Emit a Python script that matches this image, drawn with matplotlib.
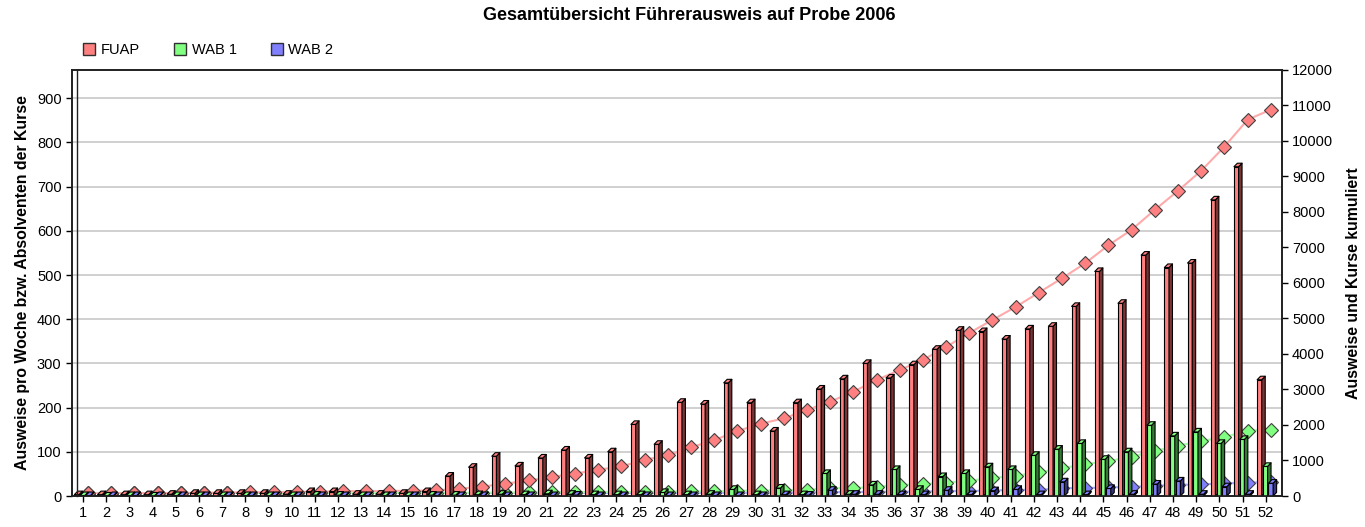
import matplotlib
matplotlib.use("Agg")
import matplotlib.pyplot as plt
import numpy as np
from matplotlib.collections import PolyCollection
from matplotlib.lines import Line2D
from matplotlib.patches import Rectangle
from matplotlib import transforms

plt.rcParams["font.family"] = ["Liberation Sans", "DejaVu Sans"]

weeks = list(range(1, 53))

# weekly counts (left axis)
fuap = [3, 3, 3, 3, 4, 6, 6, 6, 6, 4, 10, 10, 4, 4, 6, 10,
        45, 65, 90, 68, 86, 104, 86, 100, 162, 117,
        212, 208, 256, 211, 147, 211, 242, 265, 300, 267,
        297, 332, 375, 372, 355, 378, 384, 429, 508, 436,
        545, 517, 527, 670, 745, 263]
wab1 = [1, 0, 1, 0, 1, 1, 1, 1, 1, 1, 2, 2, 1, 1, 1, 2,
        2, 3, 4, 3, 5, 4, 3, 3, 3, 8, 3, 4,
        15, 3, 18, 3, 51, 4, 25, 60, 15, 44,
        51, 66, 60, 92, 106, 119, 83, 100,
        160, 136, 145, 119, 128, 67]
wab2 = [1, 1, 1, 1, 1, 1, 1, 1, 1, 1, 1, 1, 1, 1, 1, 1,
        1, 1, 1, 1, 1, 2, 1, 1, 1, 1, 1, 1, 1, 1,
        3, 2, 13, 4, 4, 3, 3, 13, 3, 12, 15, 3, 32, 3, 17, 4,
        27, 34, 4, 21, 4, 29]

# cumulative values (right axis)
fuap_cum = [3, 6, 9, 12, 16, 22, 28, 34, 40, 44, 54, 64, 68, 72, 78, 88,
            133, 195, 275, 366, 465, 560, 670, 760, 950, 1070, 1300, 1500, 1757,
            1963, 2113, 2349, 2583, 2865, 3194, 3476, 3758, 4124, 4518, 4884, 5250, 5654,
            6057, 6479, 6986, 7420, 7983, 8518, 9082, 9758, 10518, 10800]
wab1_cum = [1, 1, 2, 2, 3, 4, 5, 6, 7, 8, 10, 12, 13, 14, 15, 17,
            19, 22, 26, 29, 34, 38, 41, 44, 47, 55, 58, 62,
            77, 80, 98, 101, 152, 156, 183, 243, 262, 306,
            360, 438, 500, 595, 712, 827, 912, 1035,
            1200, 1345, 1476, 1589, 1765, 1800]
wab2_cum = [0, 0, 1, 1, 1, 2, 2, 3, 3, 3, 4, 4, 5, 5, 5, 6,
            7, 8, 9, 10, 11, 12, 13, 14, 15, 16, 17, 18, 19, 20,
            23, 25, 38, 42, 46, 49, 52, 65, 70, 84, 100, 104, 150, 154, 172, 185,
            215, 245, 254, 285, 300, 330]

series_names = ["FUAP", "WAB 1", "WAB 2"]
front_colors = ["#ff8080", "#80ff80", "#8080ff"]
side_colors = ["#7a3434", "#347a34", "#34347a"]
line_colors = ["#ffaaaa", "#aaffaa", "#aaaaff"]


def bars3d(ax, x, h, off, w, dx, dy, fc, sc, z):
    x = np.asarray(x, float) + off
    h = np.asarray(h, float)
    ax.bar(x, h, width=w, align="edge", color=fc, edgecolor="black",
           linewidth=0.8, zorder=z)
    sides = [[(xi + w, 0), (xi + w + dx, dy), (xi + w + dx, hi + dy), (xi + w, hi)]
             for xi, hi in zip(x, h)]
    tops = [[(xi, hi), (xi + dx, hi + dy), (xi + w + dx, hi + dy), (xi + w, hi)]
            for xi, hi in zip(x, h)]
    ax.add_collection(PolyCollection(sides, facecolors=sc, edgecolors="black",
                                     linewidths=0.8, zorder=z))
    ax.add_collection(PolyCollection(tops, facecolors=fc, edgecolors="black",
                                     linewidths=0.8, zorder=z))


fig = plt.figure(figsize=(13.65, 5.27), dpi=100)
ax = fig.add_axes([72 / 1365, 31 / 527, 1209.7 / 1365, 426.5 / 527])
ax2 = ax.twinx()

ax.set_xlim(0.53, 52.69)
ax.set_ylim(0, 965)
ax2.set_ylim(0, 12000)

# cumulative lines behind the bars, on the right-axis scale, drawn on the
# chart "floor" a few pixels above the x axis
lift = transforms.ScaledTranslation(0, 2.5 / 100, fig.dpi_scale_trans)
floor_clip = Rectangle((0, 2.5 / 426.5), 1, 1, transform=ax.transAxes,
                       facecolor="none", edgecolor="none")
ax.add_patch(floor_clip)
offsets_line = np.asarray(weeks) + 0.22
for cum, lc, fc in zip([wab2_cum, wab1_cum, fuap_cum], line_colors[::-1], front_colors[::-1]):
    ln, = ax.plot(offsets_line, cum, transform=ax2.transData + lift, color=lc, lw=1.5,
                  marker="D", markersize=7.5, markerfacecolor=fc,
                  markeredgecolor="#404040", markeredgewidth=0.8, zorder=2)
    ln.set_clip_path(floor_clip)

bar_offsets = [-0.37, -0.12, 0.12]
for vals, off, fc, sc, z in zip([fuap, wab1, wab2], bar_offsets, front_colors, side_colors, [3, 4, 5]):
    bars3d(ax, weeks, vals, off, 0.2, 0.15, 8, fc, sc, z)

ax.set_xlim(0.53, 52.69)
ax.set_ylim(0, 965)

ax.set_yticks(range(0, 901, 100))
ax.set_xticks(weeks)
ax.yaxis.grid(True, color="#c8c8c8", lw=1.2)
ax.set_axisbelow(True)
ax2.set_yticks(range(0, 12001, 1000))

for a in (ax, ax2):
    a.tick_params(labelsize=10.5, length=4, width=1, colors="black")
    for s in a.spines.values():
        s.set_color("#202020")
        s.set_linewidth(1.2)

# inner line of the 3D wall on the left
shift = transforms.ScaledTranslation(5 / 100, 0, fig.dpi_scale_trans)
ax.add_line(Line2D([0, 0], [0, 1], transform=ax.transAxes + shift, color="#202020",
                   lw=1.0, clip_on=False, zorder=6))

ax.set_ylabel("Ausweise pro Woche bzw. Absolventen der Kurse", fontsize=11.4,
              fontweight="bold", labelpad=5)
ax2.set_ylabel("Ausweise und Kurse kumuliert", fontsize=11.4, fontweight="bold",
               labelpad=9)

fig.text(689 / 1365, 1 - 15 / 527, "Gesamtübersicht Führerausweis auf Probe 2006",
         ha="center", va="center", fontsize=13, fontweight="bold")

handles = [Line2D([], [], ls="none", marker="s", markersize=8, markerfacecolor=c,
                  markeredgecolor="#303030", markeredgewidth=1) for c in front_colors]
fig.legend(handles, series_names, loc="center left",
           bbox_to_anchor=(76 / 1365, 1 - 50 / 527), ncol=3, frameon=False,
           fontsize=10.5, handletextpad=0.3, columnspacing=2.25, borderaxespad=0,
           handlelength=1.0)

fig.savefig("out.png", dpi=100)
